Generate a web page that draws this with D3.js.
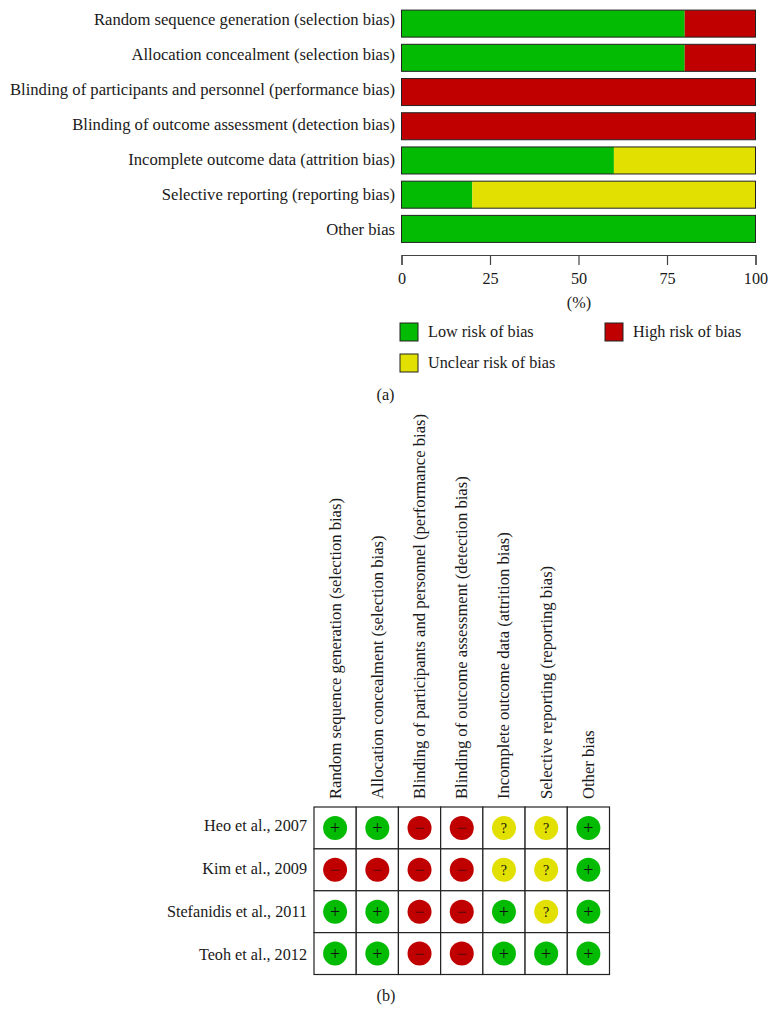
<!DOCTYPE html>
<html>
<head>
<meta charset="utf-8">
<script src="https://cdn.jsdelivr.net/npm/d3@7"></script>
<style>
  body { margin: 0; background: #fff; }
</style>
</head>
<body>
<script>
const domains = [
  'Random sequence generation (selection bias)',
  'Allocation concealment (selection bias)',
  'Blinding of participants and personnel (performance bias)',
  'Blinding of outcome assessment (detection bias)',
  'Incomplete outcome data (attrition bias)',
  'Selective reporting (reporting bias)',
  'Other bias'
];
const lowRisk = [80, 80, 0, 0, 60, 20, 100];
const unclearRisk = [0, 0, 0, 0, 40, 80, 0];
const highRisk = [20, 20, 100, 100, 0, 0, 0];
const xTicks = [0, 25, 50, 75, 100];

const studies = ['Heo et al., 2007', 'Kim et al., 2009', 'Stefanidis et al., 2011', 'Teoh et al., 2012'];
const heo = ['+', '+', '-', '-', '?', '?', '+'];
const kim = ['-', '-', '-', '-', '?', '?', '+'];
const stefanidis = ['+', '+', '-', '-', '+', '?', '+'];
const teoh = ['+', '+', '-', '-', '+', '+', '+'];
const judgements = [heo, kim, stefanidis, teoh];

const green = '#04bb04', yellow = '#e1e000', red = '#c00000';
const serif = '"Liberation Serif", serif';
const labelSize = 16.64, smallSize = 16.2;

const svg = d3.select('body').append('svg')
  .attr('width', 776)
  .attr('height', 1014)
  .attr('font-family', serif)
  .attr('fill', '#1a1a1a')
  .style('display', 'block');

// (a) summary bars
const x = d3.scaleLinear().domain([0, 100]).range([401.5, 755.5]);
const y = d3.scaleBand().domain(domains).range([6.5, 246]).paddingInner(0.21).paddingOuter(0.105);
// the labels run on a slightly wider pitch than the bars
const labelY = d3.scalePoint().domain(domains).range([25, 235]);

const rows = domains.map((d, i) => ({ domain: d, low: lowRisk[i], unclear: unclearRisk[i], high: highRisk[i] }));
const stacked = d3.stack().keys(['low', 'unclear', 'high'])(rows);
const barColor = d3.scaleOrdinal().domain(['low', 'unclear', 'high']).range([green, yellow, red]);

svg.append('g').selectAll('g')
  .data(stacked)
  .enter()
  .append('g')
  .attr('fill', d => barColor(d.key))
  .selectAll('rect')
  .data(d => d)
  .enter()
  .append('rect')
  .attr('x', d => x(d[0]))
  .attr('y', d => y(d.data.domain))
  .attr('width', d => x(d[1]) - x(d[0]))
  .attr('height', y.bandwidth());

svg.append('g').selectAll('rect')
  .data(domains)
  .enter()
  .append('rect')
  .attr('x', x(0))
  .attr('y', d => y(d))
  .attr('width', x(100) - x(0))
  .attr('height', y.bandwidth())
  .attr('fill', 'none')
  .attr('stroke', '#222')
  .attr('stroke-width', 1);

svg.append('g').selectAll('text')
  .data(domains)
  .enter()
  .append('text')
  .text(d => d)
  .attr('x', 395)
  .attr('y', d => labelY(d))
  .attr('text-anchor', 'end')
  .attr('font-size', labelSize);

const xAxis = svg.append('g')
  .attr('transform', 'translate(0,255)')
  .call(d3.axisBottom(x).tickValues(xTicks).tickSize(10).tickPadding(7));
xAxis.selectAll('path, line').attr('stroke', '#444').attr('stroke-width', 1.2);
xAxis.selectAll('text').attr('font-size', smallSize).attr('font-family', serif).attr('fill', '#1a1a1a');

svg.append('text').text('(%)').attr('x', 579).attr('y', 308).attr('text-anchor', 'middle').attr('font-size', smallSize);

// legend
const legend = [
  { label: 'Low risk of bias', color: green, lx: 400, ly: 323 },
  { label: 'High risk of bias', color: red, lx: 605, ly: 323 },
  { label: 'Unclear risk of bias', color: yellow, lx: 400, ly: 354 }
];
const legendItem = svg.append('g').selectAll('g')
  .data(legend)
  .enter()
  .append('g')
  .attr('transform', d => `translate(${d.lx},${d.ly})`);
legendItem.append('rect')
  .attr('width', 18)
  .attr('height', 18)
  .attr('fill', d => d.color)
  .attr('stroke', '#222');
legendItem.append('text')
  .text(d => d.label)
  .attr('x', 28)
  .attr('y', 14)
  .attr('font-size', smallSize);

svg.append('text').text('(a)').attr('x', 385.5).attr('y', 400).attr('text-anchor', 'middle').attr('font-size', smallSize);

// (b) study by domain grid
const col = d3.scaleBand().domain(domains).range([314, 609.5]);
const row = d3.scaleBand().domain(studies).range([807, 974.5]);
const studyY = d3.scalePoint().domain(studies).range([831, 959.5]);

svg.append('g').selectAll('text')
  .data(domains)
  .enter()
  .append('text')
  .text(d => d)
  .attr('transform', d => `translate(${col(d) + col.bandwidth() / 2 + 5.5},799) rotate(-90)`)
  .attr('font-size', labelSize);

svg.append('g').selectAll('text')
  .data(studies)
  .enter()
  .append('text')
  .text(d => d)
  .attr('x', 307)
  .attr('y', d => studyY(d))
  .attr('text-anchor', 'end')
  .attr('font-size', smallSize);

const riskColor = d3.scaleOrdinal().domain(['+', '-', '?']).range([green, red, yellow]);
const cells = judgements.flatMap((r, i) => r.map((v, j) => ({ study: studies[i], domain: domains[j], v })));

const cell = svg.append('g').selectAll('g')
  .data(cells)
  .enter()
  .append('g')
  .attr('transform', d => `translate(${col(d.domain)},${row(d.study)})`);
cell.append('rect')
  .attr('width', col.bandwidth())
  .attr('height', row.bandwidth())
  .attr('fill', '#fff')
  .attr('stroke', '#222')
  .attr('stroke-width', 1.2);
cell.append('circle')
  .attr('cx', col.bandwidth() / 2)
  .attr('cy', row.bandwidth() / 2)
  .attr('r', 12)
  .attr('fill', d => riskColor(d.v));
cell.append('text')
  .text(d => d.v === '-' ? '\u2212' : d.v)
  .attr('x', col.bandwidth() / 2)
  .attr('y', d => row.bandwidth() / 2 + (d.v === '?' ? 5 : 6))
  .attr('text-anchor', 'middle')
  .attr('font-size', d => d.v === '?' ? 14 : 18)
  .attr('fill', d => d.v === '-' ? '#5c0a0a' : '#111');

svg.append('text').text('(b)').attr('x', 386).attr('y', 1001).attr('text-anchor', 'middle').attr('font-size', smallSize);
</script>
</body>
</html>
